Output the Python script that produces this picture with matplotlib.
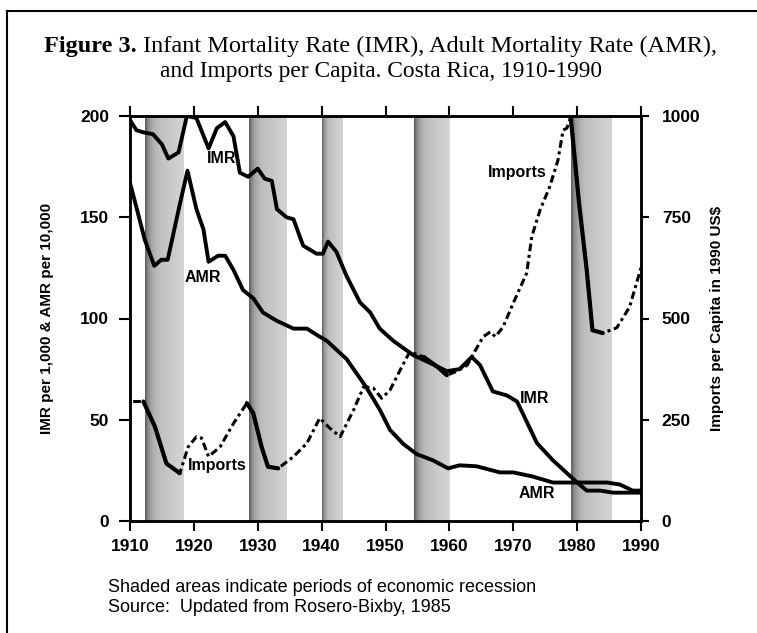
import matplotlib
matplotlib.use("Agg")
import matplotlib.pyplot as plt
import numpy as np

# infant mortality per 1,000
imr_years = [1910, 1911, 1912, 1913.6, 1915, 1916, 1917.6, 1918.9, 1920.4, 1922.3,
             1923.6, 1924.9, 1926.2, 1927.2, 1928.5, 1930.0, 1931.1, 1932.2, 1933,
             1934.5, 1935.6, 1937.1, 1939.2, 1940.2, 1941, 1942.3, 1943.9, 1946,
             1947.6, 1949.1, 1951.2, 1954.3, 1957, 1959.6, 1961.6, 1963.5, 1964.8,
             1966.8, 1969, 1970.6, 1973.7, 1976.2, 1980, 1981.5, 1983.6, 1985.6, 1990]
imr = [198, 193, 192, 191, 186, 179, 182, 200, 199, 184,
       194, 197, 190, 172, 170, 174, 169, 168, 154,
       150, 149, 136, 132, 132, 138, 133, 121, 108,
       103, 95, 89, 82, 78, 74, 75, 81, 77,
       64, 62, 59, 38.5, 30, 19, 15, 15, 14, 14]

# adult mortality per 10,000
amr_years = [1910, 1911, 1912.3, 1913.8, 1914.9, 1915.9, 1917.7, 1919, 1920.4, 1921.5,
             1922.3, 1923.8, 1924.9, 1926.2, 1927.7, 1929.3, 1930.8, 1932.9, 1935.6,
             1937.7, 1939.7, 1940.8, 1943.9, 1947, 1949.1, 1950.7, 1952.8, 1954.9,
             1957.4, 1959.8, 1961.6, 1964.3, 1967.9, 1970, 1973, 1976.2, 1980,
             1984.7, 1986.7, 1988.7, 1990]
amr = [167, 155, 139, 126, 129, 129, 155, 173, 154, 144,
       128, 131, 131, 124, 114, 110, 103, 99, 95,
       95, 91, 89, 80, 66, 55, 45, 38, 33,
       30, 26, 27.5, 27, 24, 24, 22, 19, 19,
       19, 18, 15, 15]

# imports per capita, 1990 US$
imp_years = [1910.5, 1912.1, 1913.9, 1915.7, 1917.8, 1919.1, 1920.4, 1921.2, 1922.3,
             1924.1, 1926.2, 1928.3, 1929.3, 1930.6, 1931.6, 1933.2, 1935.6, 1937.7,
             1939.7, 1941.3, 1942.9, 1945, 1946.6, 1948.1, 1949.4, 1950.7, 1952.3,
             1953.8, 1956, 1958.1, 1959.6, 1961.2, 1962.8, 1963.8, 1965.3, 1966.4,
             1967.2, 1968.4, 1970, 1972.1, 1972.9, 1974.2, 1975.7, 1977, 1977.8,
             1978.4, 1979, 1980.3, 1981.5, 1982.4, 1984, 1986.2, 1988.2, 1990]
imports = [295, 295, 233, 142, 118, 183, 208, 205, 159,
           183, 241, 291, 266, 183, 134, 130, 159, 192,
           254, 229, 208, 274, 332, 328, 303, 323, 373,
           418, 405, 381, 360, 370, 385, 414, 455, 467,
           455, 479, 538, 612, 702, 768, 825, 891, 965,
           970, 997, 785, 620, 471, 464, 477, 528, 625]

# recession periods (shaded)
rec_start = [1912.3, 1928.6, 1940.1, 1954.4, 1979.0]
rec_end = [1918.3, 1934.4, 1943.3, 1960.0, 1985.3]
solid_periods = [0, 1, 3, 4]

x_ticks = [1910, 1920, 1930, 1940, 1950, 1960, 1970, 1980, 1990]
left_ticks = [0, 50, 100, 150, 200]
right_ticks = [0, 250, 500, 750, 1000]

sans = ["Liberation Sans", "DejaVu Sans"]
serif = ["Liberation Serif", "DejaVu Serif"]

fig = plt.figure(figsize=(7.57, 6.33), dpi=100)
ax = fig.add_axes([130 / 757, 1 - 521 / 633, 511 / 757, 405 / 633])

# shaded bands: dark strip at the left edge fading to lighter grey
t = np.linspace(0, 1, 80)
grad = (0.27 + 0.3 * np.exp(-t / 0.1) + 0.15 * (1 - t)).reshape(1, -1)
for s, e in zip(rec_start, rec_end):
    ax.imshow(grad, extent=[s, e, 0, 200], aspect="auto", cmap="Greys",
              vmin=0, vmax=1, zorder=0, interpolation="bilinear")

ax.plot(imr_years, imr, color="black", lw=2.8, solid_joinstyle="round", zorder=3)
ax.plot(amr_years, amr, color="black", lw=2.8, solid_joinstyle="round", zorder=3)
ax.set_xlim(1910, 1990)
ax.set_ylim(0, 200)
ax.set_xticks(x_ticks)
ax.set_yticks(left_ticks)

ax2 = ax.twinx()
ax2.set_ylim(0, 1000)
ax2.set_yticks(right_ticks)
ax2.plot(imp_years, imports, color="black", lw=2.2,
         linestyle=(0, (2.5, 1.2, 1, 1.2)), zorder=3)
iy = np.array(imp_years)
iv = np.array(imports, dtype=float)
for k in solid_periods:
    m = (iy >= rec_start[k] - 0.5) & (iy <= rec_end[k])
    seg = np.where(m, iv, np.nan)
    ax2.plot(iy, seg, color="black", lw=3.0, solid_capstyle="round", zorder=4)

for a in (ax, ax2):
    for sp in a.spines.values():
        sp.set_linewidth(1.8)

ax.tick_params(axis="x", which="both", top=True, direction="out", length=7,
               width=1.5, pad=6)
ax.tick_params(axis="y", direction="out", length=8, width=1.5, pad=7)
ax2.tick_params(axis="y", direction="out", length=6, width=1.5, pad=9)
for lab in ax.get_xticklabels() + ax.get_yticklabels() + ax2.get_yticklabels():
    lab.set_fontfamily(sans)
    lab.set_fontweight("bold")
    lab.set_fontsize(12.5)

# series labels
lab_kw = dict(fontfamily=sans, fontweight="bold", fontsize=11.5, ha="center",
              va="center", zorder=5)
ax.text(1924.4, 179, "IMR", **lab_kw)
ax.text(1921.4, 120, "AMR", **lab_kw)
ax.text(1923.6, 27.5, "Imports", **lab_kw)
ax.text(1970.6, 172, "Imports", **lab_kw)
ax.text(1973.4, 60.5, "IMR", **lab_kw)
ax.text(1973.7, 13.5, "AMR", **lab_kw)

# axis titles
fig.text(47 / 757, 1 - 318 / 633, "IMR per 1,000 & AMR per 10,000", rotation=90,
         ha="center", va="center", fontfamily=sans, fontweight="bold", fontsize=11)
fig.text(717 / 757, 1 - 318 / 633, "Imports per Capita in 1990 US$", rotation=90,
         ha="center", va="center", fontfamily=sans, fontweight="bold", fontsize=11)

# title, "Figure 3." bold and the rest regular
r = fig.canvas.get_renderer()
t1 = fig.text(0, 0, "Figure 3.", fontfamily=serif, fontweight="bold", fontsize=17.5)
t2 = fig.text(0, 0, " Infant Mortality Rate (IMR), Adult Mortality Rate (AMR),",
              fontfamily=serif, fontsize=17.5)
w1 = t1.get_window_extent(r).width
w2 = t2.get_window_extent(r).width
x0 = (757 - (w1 + w2)) / 2 + 2
base1 = 1 - 52 / 633
t1.set_position((x0 / 757, base1))
t2.set_position(((x0 + w1) / 757, base1))
t1.set_va("baseline")
t2.set_va("baseline")
fig.text(0.5 + 2 / 757, 1 - 77 / 633, "and Imports per Capita. Costa Rica, 1910-1990",
         ha="center", va="baseline", fontfamily=serif, fontsize=16.8)

# notes
fig.text(108 / 757, 1 - 592 / 633, "Shaded areas indicate periods of economic recession",
         ha="left", va="baseline", fontfamily=sans, fontsize=13)
fig.text(108 / 757, 1 - 612 / 633, "Source:  Updated from Rosero-Bixby, 1985",
         ha="left", va="baseline", fontfamily=sans, fontsize=13)

# frame (left and top edges)
fig.add_artist(plt.Line2D([7 / 757, 7 / 757], [0, 1 - 11 / 633], color="black",
                          lw=1.5, transform=fig.transFigure))
fig.add_artist(plt.Line2D([7 / 757, 1], [1 - 11 / 633, 1 - 11 / 633], color="black",
                          lw=1.5, transform=fig.transFigure))

fig.savefig("out.png", dpi=100)
